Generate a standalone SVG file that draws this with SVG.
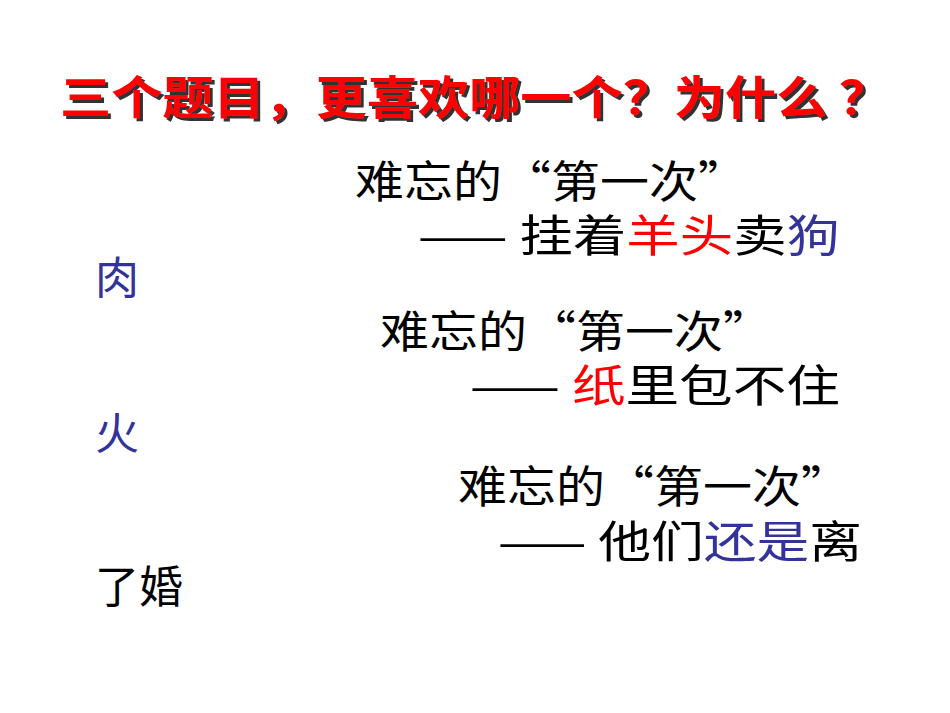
<svg xmlns="http://www.w3.org/2000/svg" width="950" height="713" viewBox="0 0 950 713">
<defs>
<filter id="sh" x="-5%" y="-20%" width="110%" height="150%"><feDropShadow dx="3" dy="3" stdDeviation="0" flood-color="#333"/></filter>
</defs>
<style>
text{font-family:"Noto Sans CJK SC","Liberation Sans",sans-serif;}
.t{font-size:46px;font-weight:bold;fill:#FF0000;}
.b{font-size:44px;fill:#000;}
.r{fill:#FF0000;}
.u{fill:#333399;}
</style>
<rect width="950" height="713" fill="#fff"/>
<g id="title">
<text class="t" filter="url(#sh)" x="60" y="114" textLength="830" lengthAdjust="spacingAndGlyphs">三个题目，更喜欢哪一个？为什么 ？</text>
</g>
<g id="item1">
<text class="b" x="355" y="198" textLength="392" lengthAdjust="spacingAndGlyphs">难忘的“第一次”</text>
<text class="b" x="418" y="252" textLength="422" lengthAdjust="spacingAndGlyphs">—— 挂着<tspan class="r">羊头</tspan>卖<tspan class="u">狗</tspan></text>
<text class="b u" x="95" y="294">肉</text>
</g>
<g id="item2">
<text class="b" x="380" y="348" textLength="392" lengthAdjust="spacingAndGlyphs">难忘的“第一次”</text>
<text class="b" x="470" y="402" textLength="370" lengthAdjust="spacingAndGlyphs">—— <tspan class="r">纸</tspan>里包不住</text>
<text class="b u" x="95" y="450">火</text>
</g>
<g id="item3">
<text class="b" x="458" y="503" textLength="392" lengthAdjust="spacingAndGlyphs">难忘的“第一次”</text>
<text class="b" x="498" y="558" textLength="364" lengthAdjust="spacingAndGlyphs">—— 他们<tspan class="u">还是</tspan>离</text>
<text class="b" x="95" y="603">了婚</text>
</g>
</svg>
